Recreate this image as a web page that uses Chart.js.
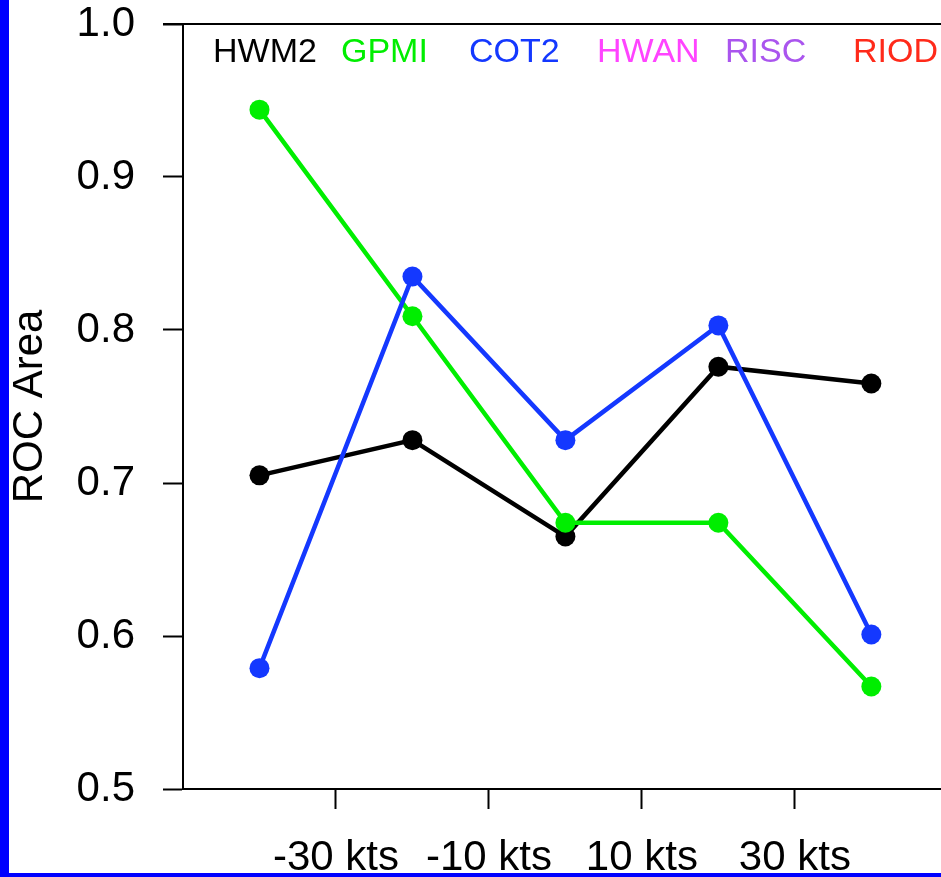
<!DOCTYPE html>
<html>
<head>
<meta charset="utf-8">
<script src="https://cdn.jsdelivr.net/npm/chart.js@4/dist/chart.umd.min.js"></script>
<style>
  html, body { margin: 0; padding: 0; background: #0000ff; width: 941px; height: 877px; overflow: hidden; }
  #wrap { position: absolute; left: 9px; top: 0; width: 932px; height: 873px; background: #fff; }
</style>
</head>
<body>
<div id="wrap"><canvas id="roc"></canvas></div>
<script>
// intensity change bins (kts) and where the axis ticks go
const speeds = [-40, -20, 0, 20, 40];
const tickKts = [-30, -10, 10, 30];
const yTicks = [0.5, 0.6, 0.7, 0.8, 0.9, 1.0];

// model names shown across the top, with their colours
const models = ['HWM2', 'GPMI', 'COT2', 'HWAN', 'RISC', 'RIOD'];
const modelColors = ['#000000', '#00ee00', '#1438ff', '#ff44ff', '#aa55ee', '#ff2a1a'];

// ROC area per bin
const hwm2 = [0.705, 0.728, 0.665, 0.776, 0.765];
const gpmi = [0.944, 0.809, 0.674, 0.674, 0.567];
const cot2 = [0.579, 0.835, 0.728, 0.803, 0.601];

const FONT = "'Liberation Sans', Arial, Helvetica, sans-serif";

function series(label, values, color, order) {
    return {
        label: label,
        data: speeds.map((s, i) => ({ x: s, y: values[i] })),
        borderColor: color,
        backgroundColor: color,
        borderWidth: 4.5,
        pointRadius: 10,
        pointBorderWidth: 0,
        pointBackgroundColor: color,
        tension: 0,
        order: order
    };
}

// keep the plot box fixed, labels are allowed to hang over
function noPadding(s) {
    s.paddingTop = 0;
    s.paddingBottom = 0;
    s.paddingLeft = 0;
    s.paddingRight = 0;
}

// frame lines running off the right edge, plus the coloured model names
const frameAndNames = {
    id: 'frameAndNames',
    afterDraw(chart) {
        const ctx = chart.ctx;
        const area = chart.chartArea;
        ctx.save();
        ctx.strokeStyle = '#000';
        ctx.lineWidth = 2;
        ctx.beginPath();
        ctx.moveTo(area.left - 20, area.top);
        ctx.lineTo(chart.width, area.top);
        ctx.moveTo(area.right - 2, area.bottom);
        ctx.lineTo(chart.width, area.bottom);
        ctx.stroke();

        ctx.font = '34px ' + FONT;
        ctx.textAlign = 'left';
        ctx.textBaseline = 'alphabetic';
        models.forEach((m, i) => {
            ctx.fillStyle = modelColors[i];
            ctx.fillText(m, area.left + 30 + i * 128, area.top + 38);
        });
        ctx.restore();
    }
};

new Chart(document.getElementById('roc'), {
    type: 'line',
    data: {
        datasets: [
            series('HWM2', hwm2, modelColors[0], 2),
            series('GPMI', gpmi, modelColors[1], 1),
            series('COT2', cot2, modelColors[2], 0)
        ]
    },
    options: {
        responsive: true,
        maintainAspectRatio: false,
        animation: false,
        layout: { padding: { top: 24, left: 0, right: 0, bottom: 0 } },
        plugins: {
            legend: { display: false },
            tooltip: { enabled: false }
        },
        scales: {
            x: {
                type: 'linear',
                min: -50,
                max: 47.8,
                afterBuildTicks: s => { s.ticks = tickKts.map(v => ({ value: v })); },
                afterFit: s => { s.height = 84; noPadding(s); },
                grid: { drawOnChartArea: false, drawTicks: true, tickLength: 20, tickWidth: 2, tickColor: '#000' },
                border: { display: true, color: '#000', width: 2 },
                ticks: {
                    padding: 24,
                    color: '#000',
                    maxRotation: 0,
                    autoSkip: false,
                    font: { family: FONT, size: 42 },
                    callback: v => v + ' kts'
                }
            },
            y: {
                min: 0.5,
                max: 1.0,
                afterBuildTicks: s => { s.ticks = yTicks.map(v => ({ value: v })); },
                afterFit: s => { s.width = 174; noPadding(s); },
                grid: { drawOnChartArea: false, drawTicks: true, tickLength: 20, tickWidth: 2, tickColor: '#000' },
                border: { display: true, color: '#000', width: 2 },
                ticks: {
                    padding: 28,
                    color: '#000',
                    font: { family: FONT, size: 42 },
                    callback: v => v.toFixed(1)
                },
                title: {
                    display: true,
                    text: 'ROC Area',
                    color: '#000',
                    padding: 0,
                    font: { family: FONT, size: 42, lineHeight: 1 }
                }
            }
        }
    },
    plugins: [frameAndNames]
});
</script>
</body>
</html>
